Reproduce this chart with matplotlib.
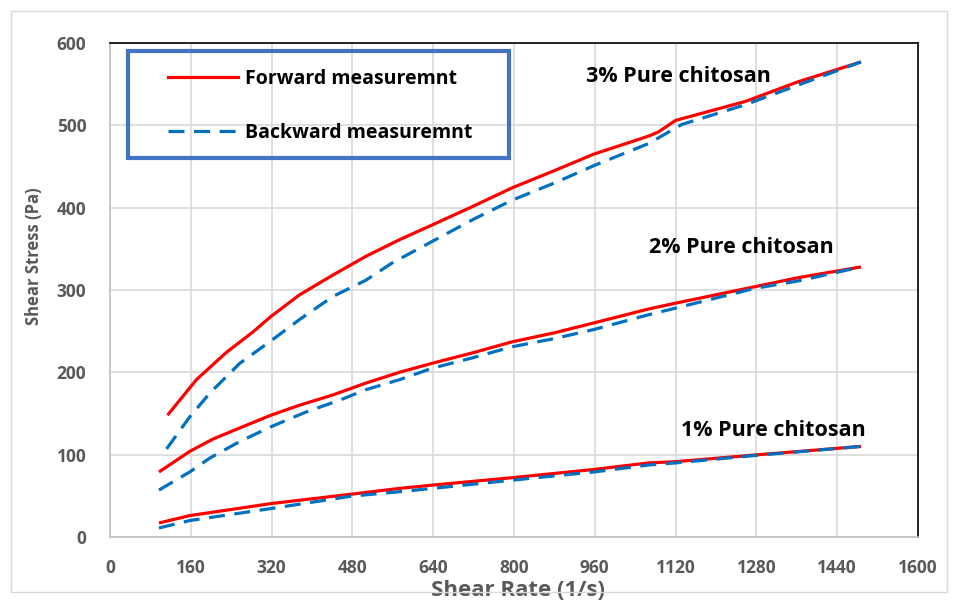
import matplotlib

matplotlib.use("Agg")
import matplotlib.pyplot as plt
from matplotlib.lines import Line2D
from matplotlib.patches import Rectangle

plt.rcParams["font.family"] = ["Open Sans", "DejaVu Sans"]
plt.rcParams["font.weight"] = "bold"

# shear rate (1/s) and shear stress (Pa)
x_fwd_3 = [114, 171, 230, 283, 319, 375, 441, 507, 573, 638, 720, 796, 880, 958, 1067, 1086, 1120, 1258, 1363, 1487]
y_fwd_3 = [148, 191, 224, 249, 268, 294, 318, 341, 361, 379, 402, 424, 445, 465, 487, 492, 506, 529, 553, 577]
x_bwd_3 = [112, 158, 198, 257, 316, 375, 441, 507, 559, 638, 720, 796, 880, 958, 1067, 1132, 1258, 1363, 1487]
y_bwd_3 = [107, 146, 175, 211, 237, 264, 292, 312, 333, 359, 386, 409, 430, 451, 478, 501, 525, 549, 577]

x_fwd_2 = [97, 158, 204, 263, 319, 375, 441, 507, 573, 638, 720, 796, 880, 958, 1067, 1120, 1277, 1363, 1487]
y_fwd_2 = [79, 104, 119, 134, 148, 160, 172.5, 187, 200, 211, 224, 237, 248, 260, 277, 284, 304, 315, 328]
x_bwd_2 = [97, 158, 198, 257, 319, 389, 454, 507, 573, 638, 720, 796, 880, 958, 1067, 1120, 1277, 1363, 1487]
y_bwd_2 = [57, 79, 96, 116, 134, 152, 166, 179, 191, 205, 218, 231, 241, 252, 270, 278, 302, 311, 328]

x_fwd_1 = [97, 158, 319, 478, 573, 638, 796, 958, 1067, 1120, 1277, 1487]
y_fwd_1 = [17, 26, 40.6, 52, 59, 63, 72, 82, 90, 91.5, 99.6, 110]
x_bwd_1 = [97, 158, 319, 478, 573, 638, 796, 958, 1067, 1120, 1277, 1487]
y_bwd_1 = [11, 20, 34.6, 49.6, 55, 59, 69, 79, 87.5, 90, 99, 110]

x_ticks = [0, 160, 320, 480, 640, 800, 960, 1120, 1280, 1440, 1600]
y_ticks = [0, 100, 200, 300, 400, 500, 600]

series_labels = ["3% Pure chitosan", "2% Pure chitosan", "1% Pure chitosan"]
label_pos = [(1126, 559), (1250, 352), (1313, 129)]

RED = "#FF0000"
BLUE = "#0070C0"
GRAY = "#595959"

fig = plt.figure(figsize=(9.58, 6.03), dpi=100)
fig.patches.append(Rectangle((11 / 958, 11 / 603), 936 / 958, 581 / 603, transform=fig.transFigure,
                             fill=False, edgecolor="#D9D9D9", linewidth=1))
ax = fig.add_axes([110 / 958, 66 / 603, 808 / 958, 494 / 603])

lw = 2.3
dash = (0, (5, 3))
for xf, yf, xb, yb in [(x_fwd_3, y_fwd_3, x_bwd_3, y_bwd_3),
                       (x_fwd_2, y_fwd_2, x_bwd_2, y_bwd_2),
                       (x_fwd_1, y_fwd_1, x_bwd_1, y_bwd_1)]:
    ax.plot(xf, yf, color=RED, linewidth=lw, solid_capstyle="butt", zorder=3)
    ax.plot(xb, yb, color=BLUE, linewidth=lw, linestyle=dash, zorder=4)

for text, (tx, ty) in zip(series_labels, label_pos):
    ax.text(tx, ty, text, ha="center", va="center", fontsize=15.5, fontweight="bold", color="black")

ax.set_xlim(0, 1600)
ax.set_ylim(0, 600)
ax.set_xticks(x_ticks)
ax.set_yticks(y_ticks)
ax.tick_params(axis="both", length=0, labelsize=12.5, labelcolor=GRAY)
ax.tick_params(axis="x", pad=16)
ax.tick_params(axis="y", pad=17)
ax.grid(True, color="#D9D9D9", linewidth=1.2)
ax.set_axisbelow(True)

ax.spines["left"].set_color("#BFBFBF")
ax.spines["bottom"].set_color("#BFBFBF")
ax.spines["top"].set_color("black")
ax.spines["right"].set_color("black")
for s in ax.spines.values():
    s.set_linewidth(1.2)

ax.set_xlabel("Shear Rate (1/s)", fontsize=16, fontweight="bold", color=GRAY)
ax.set_ylabel("Shear Stress (Pa)", fontsize=12, fontweight="bold", color=GRAY)
ax.xaxis.set_label_coords(0.505, -0.088)
ax.yaxis.set_label_coords(-0.083, 0.569)

# legend box drawn separately so the inner padding matches
ax.add_patch(Rectangle((0.0223, 0.767), 0.4715, 0.2174, transform=ax.transAxes, fill=False,
                       edgecolor="#4472C4", linewidth=3, zorder=6))
handles = [Line2D([], [], color=RED, linewidth=lw),
           Line2D([], [], color=BLUE, linewidth=lw, linestyle=dash)]
leg = ax.legend(handles, ["Forward measuremnt", "Backward measuremnt"],
                loc="upper left", bbox_to_anchor=(0.0718, 0.948), frameon=False,
                fontsize=14, borderpad=0, borderaxespad=0, labelspacing=1.75,
                handlelength=3.6, handletextpad=0.35)
for t in leg.get_texts():
    t.set_fontweight("bold")

fig.savefig("out.png", dpi=100)
